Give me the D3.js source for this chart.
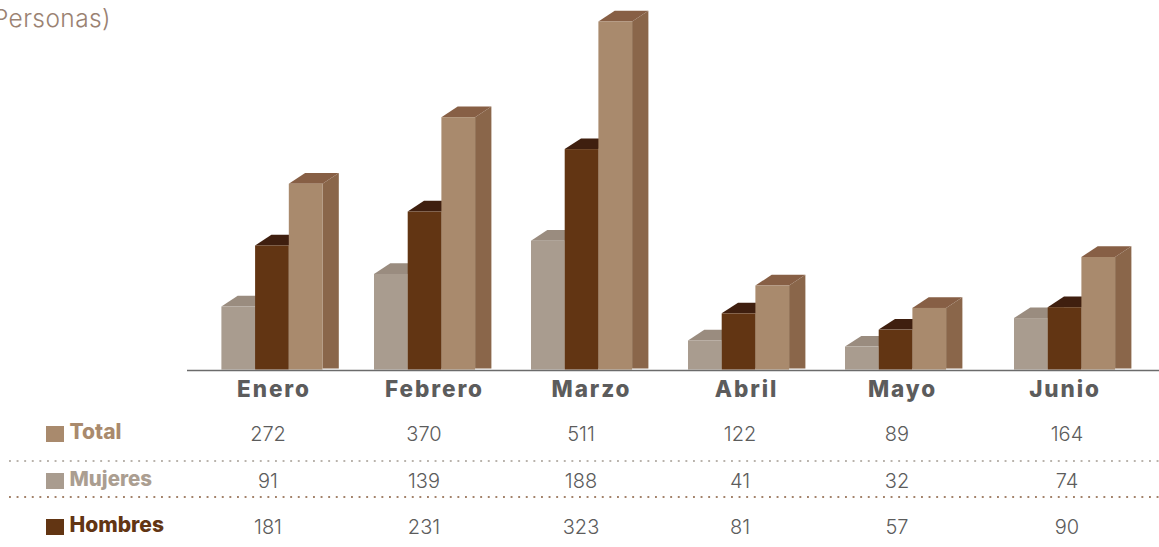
<!DOCTYPE html>
<html><head><meta charset="utf-8">
<script src="https://cdn.jsdelivr.net/npm/d3@7/dist/d3.min.js"></script>
<style>html,body{margin:0;padding:0;background:#fff;overflow:hidden}svg{display:block}text{font-family:Inter,"Open Sans",sans-serif}</style>
</head><body><svg id="c" width="1159" height="547"></svg>
<script>
const months=["Enero","Febrero","Marzo","Abril","Mayo","Junio"];
const total=[272,370,511,122,89,164];
const mujeres=[91,139,188,41,32,74];
const hombres=[181,231,323,81,57,90];

const groupLeft=[221.4,374,531,688,845,1014];
const labelX=[274,434.5,591.5,746.5,902.5,1065];
const valueX=[268,424,581,740,897,1067];
const barW=33.7,dx=16.3,dy=10.7;
const svg=d3.select("#c");
const x=d3.scaleOrdinal().domain(months).range(groupLeft);
const lx=d3.scaleOrdinal().domain(months).range(labelX);
const vx=d3.scaleOrdinal().domain(months).range(valueX);
const y=d3.scaleLinear().domain([-2.5,511]).range([370,21.5]);
const base=369.6;

const series=[
 {name:"Mujeres",vals:mujeres,front:"#a99c8f",side:"#8f8174",top:"#9a8c7f",label:"#ab9e91",rowY:480,swY:473,off:6},
 {name:"Hombres",vals:hombres,front:"#623513",side:"#4a2710",top:"#3f1f0f",label:"#623513",rowY:526,swY:519,off:6},
 {name:"Total",vals:total,front:"#a98a6d",side:"#8a664a",top:"#875f45",label:"#a98a6d",rowY:433,swY:426,off:6}
];

series.forEach((s,i)=>{
  const g=svg.append("g").attr("class","s-"+s.name);
  const left=m=>x(m)+i*barW;
  const data=months.map((m,k)=>({m,v:s.vals[k]}));
  g.selectAll("path.side").data(data).join("path").attr("class","side").attr("fill",s.side)
   .attr("d",d=>{const a=left(d.m)+barW,t=y(d.v),b=base-1;return `M${a},${t}L${a+dx},${t-dy}L${a+dx},${b}L${a},${b}Z`;});
  g.selectAll("path.top").data(data).join("path").attr("class","top").attr("fill",s.top)
   .attr("d",d=>{const a=left(d.m),t=y(d.v);return `M${a},${t}L${a+dx},${t-dy}L${a+barW+dx},${t-dy}L${a+barW},${t}Z`;});
  g.selectAll("rect").data(data).join("rect").attr("fill",s.front)
   .attr("x",d=>left(d.m)).attr("y",d=>y(d.v)).attr("width",barW).attr("height",d=>base-y(d.v));
});

svg.append("line").attr("x1",187).attr("x2",1159).attr("y1",370.5).attr("y2",370.5).attr("stroke","#6b6b6b").attr("stroke-width",1.3);

svg.selectAll("text.cat").data(months).join("text").attr("class","cat")
 .attr("x",d=>lx(d)).attr("y",397).attr("text-anchor","middle")
 .attr("font-size",22.5).attr("font-weight",800).attr("letter-spacing",1.9).attr("fill","#5c5c5c").text(d=>d);

svg.append("text").attr("x",111).attr("y",27).attr("text-anchor","end")
 .attr("font-size",24.5).attr("font-weight",300).attr("letter-spacing",0.4).attr("fill","#9a8272").text("(Personas)");

[[461,"#b9b3ac"],[497,"#a3826a"]].forEach(([ly,c])=>{
  svg.append("line").attr("x1",9).attr("x2",1159).attr("y1",ly).attr("y2",ly)
   .attr("stroke",c).attr("stroke-width",1.9).attr("stroke-dasharray","1.9 5.7");
});

series.forEach(s=>{
  svg.append("rect").attr("x",46).attr("y",s.swY).attr("width",18).attr("height",16).attr("fill",s.front);
  svg.append("text").attr("x",69.5).attr("y",s.rowY+s.off).attr("font-size",s.name==="Mujeres"?20.5:21).attr("font-weight",800).attr("fill",s.label).text(s.name);
  svg.selectAll("text.v-"+s.name).data(months.map((m,k)=>({m,v:s.vals[k]}))).join("text").attr("class","v-"+s.name)
   .attr("x",d=>vx(d.m)).attr("y",s.rowY+8).attr("text-anchor","middle")
   .attr("font-size",20).attr("font-weight",300).attr("fill","#5c5c5c").text(d=>d.v);
});
</script></body></html>
